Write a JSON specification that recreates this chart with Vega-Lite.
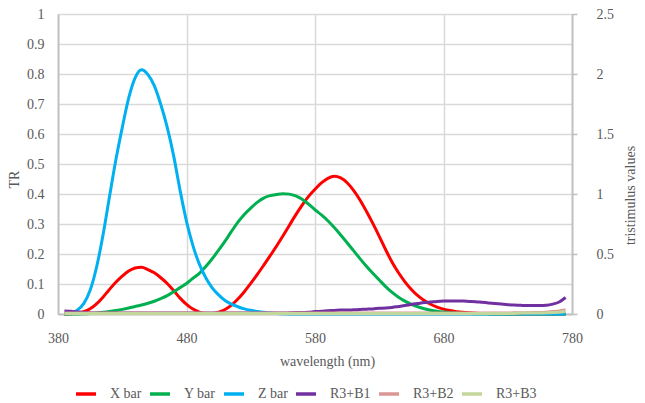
{
  "$schema": "https://vega.github.io/schema/vega-lite/v6.json",
  "autosize": {"type": "none"},
  "padding": {"left": 58, "top": 14, "right": 73, "bottom": 89},
  "width": 514,
  "height": 300,
  "background": "white",
  "config": {
    "view": {"stroke": null},
    "font": "Liberation Serif",
    "axis": {
      "labelFont": "Liberation Serif",
      "titleFont": "Liberation Serif",
      "labelFontSize": 14,
      "titleFontSize": 14,
      "labelColor": "#595959",
      "titleColor": "#595959",
      "titleFontWeight": "normal",
      "domainColor": "#BFBFBF",
      "domainWidth": 1.8,
      "gridColor": "#D9D9D9",
      "gridWidth": 1.5,
      "tickColor": "#BFBFBF",
      "tickWidth": 1.5
    },
    "legend": {
      "labelFont": "Liberation Serif"
    }
  },
  "data": {
    "values": [
      {"wl": 385, "X": 0.0007, "Y": 0.0001, "Z": 0.0029, "B1": 0.010, "B2": 0.003, "B3": 0.002},
      {"wl": 390, "X": 0.0024, "Y": 0.0003, "Z": 0.0105, "B1": 0.009, "B2": 0.003, "B3": 0.002},
      {"wl": 395, "X": 0.0072, "Y": 0.0008, "Z": 0.0323, "B1": 0.007, "B2": 0.003, "B3": 0.002},
      {"wl": 400, "X": 0.0191, "Y": 0.0020, "Z": 0.0860, "B1": 0.005, "B2": 0.003, "B3": 0.002},
      {"wl": 405, "X": 0.0434, "Y": 0.0045, "Z": 0.1971, "B1": 0.004, "B2": 0.003, "B3": 0.002},
      {"wl": 410, "X": 0.0847, "Y": 0.0088, "Z": 0.3894, "B1": 0.003, "B2": 0.003, "B3": 0.002},
      {"wl": 415, "X": 0.1406, "Y": 0.0145, "Z": 0.6568, "B1": 0.003, "B2": 0.003, "B3": 0.002},
      {"wl": 420, "X": 0.2045, "Y": 0.0214, "Z": 0.9725, "B1": 0.003, "B2": 0.003, "B3": 0.002},
      {"wl": 425, "X": 0.2647, "Y": 0.0295, "Z": 1.2825, "B1": 0.003, "B2": 0.003, "B3": 0.002},
      {"wl": 430, "X": 0.3147, "Y": 0.0387, "Z": 1.5535, "B1": 0.003, "B2": 0.003, "B3": 0.002},
      {"wl": 435, "X": 0.3577, "Y": 0.0496, "Z": 1.7985, "B1": 0.003, "B2": 0.003, "B3": 0.002},
      {"wl": 440, "X": 0.3837, "Y": 0.0621, "Z": 1.9673, "B1": 0.003, "B2": 0.003, "B3": 0.002},
      {"wl": 445, "X": 0.3900, "Y": 0.0747, "Z": 2.0350, "B1": 0.003, "B2": 0.003, "B3": 0.002},
      {"wl": 450, "X": 0.3707, "Y": 0.0895, "Z": 1.9948, "B1": 0.003, "B2": 0.003, "B3": 0.002},
      {"wl": 455, "X": 0.3430, "Y": 0.1063, "Z": 1.9007, "B1": 0.003, "B2": 0.003, "B3": 0.002},
      {"wl": 460, "X": 0.3023, "Y": 0.1282, "Z": 1.7454, "B1": 0.003, "B2": 0.003, "B3": 0.002},
      {"wl": 465, "X": 0.2541, "Y": 0.1528, "Z": 1.5549, "B1": 0.003, "B2": 0.003, "B3": 0.002},
      {"wl": 470, "X": 0.1956, "Y": 0.1852, "Z": 1.3176, "B1": 0.003, "B2": 0.003, "B3": 0.002},
      {"wl": 475, "X": 0.1323, "Y": 0.2199, "Z": 1.0302, "B1": 0.003, "B2": 0.003, "B3": 0.002},
      {"wl": 480, "X": 0.0805, "Y": 0.2536, "Z": 0.7721, "B1": 0.003, "B2": 0.003, "B3": 0.002},
      {"wl": 485, "X": 0.0411, "Y": 0.2977, "Z": 0.5701, "B1": 0.003, "B2": 0.003, "B3": 0.002},
      {"wl": 490, "X": 0.0162, "Y": 0.3391, "Z": 0.4153, "B1": 0.003, "B2": 0.003, "B3": 0.002},
      {"wl": 495, "X": 0.0051, "Y": 0.3954, "Z": 0.3024, "B1": 0.003, "B2": 0.003, "B3": 0.002},
      {"wl": 500, "X": 0.0038, "Y": 0.4608, "Z": 0.2185, "B1": 0.003, "B2": 0.003, "B3": 0.002},
      {"wl": 505, "X": 0.0154, "Y": 0.5314, "Z": 0.1592, "B1": 0.003, "B2": 0.003, "B3": 0.002},
      {"wl": 510, "X": 0.0375, "Y": 0.6067, "Z": 0.1120, "B1": 0.003, "B2": 0.003, "B3": 0.002},
      {"wl": 515, "X": 0.0740, "Y": 0.6880, "Z": 0.0822, "B1": 0.003, "B2": 0.003, "B3": 0.002},
      {"wl": 520, "X": 0.1250, "Y": 0.7660, "Z": 0.0607, "B1": 0.003, "B2": 0.003, "B3": 0.002},
      {"wl": 525, "X": 0.1860, "Y": 0.8300, "Z": 0.0431, "B1": 0.003, "B2": 0.003, "B3": 0.002},
      {"wl": 530, "X": 0.2550, "Y": 0.8830, "Z": 0.0305, "B1": 0.003, "B2": 0.003, "B3": 0.002},
      {"wl": 535, "X": 0.3280, "Y": 0.9300, "Z": 0.0206, "B1": 0.003, "B2": 0.003, "B3": 0.002},
      {"wl": 540, "X": 0.4050, "Y": 0.9660, "Z": 0.0137, "B1": 0.003, "B2": 0.003, "B3": 0.002},
      {"wl": 545, "X": 0.4840, "Y": 0.9860, "Z": 0.0079, "B1": 0.003, "B2": 0.003, "B3": 0.002},
      {"wl": 550, "X": 0.5650, "Y": 0.9960, "Z": 0.0040, "B1": 0.003, "B2": 0.003, "B3": 0.002},
      {"wl": 555, "X": 0.6500, "Y": 1.0030, "Z": 0.0011, "B1": 0.003, "B2": 0.003, "B3": 0.002},
      {"wl": 560, "X": 0.7380, "Y": 0.9990, "Z": 0, "B1": 0.004, "B2": 0.003, "B3": 0.002},
      {"wl": 565, "X": 0.8260, "Y": 0.9840, "Z": 0, "B1": 0.005, "B2": 0.003, "B3": 0.002},
      {"wl": 570, "X": 0.9080, "Y": 0.9560, "Z": 0, "B1": 0.005, "B2": 0.003, "B3": 0.002},
      {"wl": 575, "X": 0.9800, "Y": 0.9152, "Z": 0, "B1": 0.006, "B2": 0.003, "B3": 0.002},
      {"wl": 580, "X": 1.0400, "Y": 0.8689, "Z": 0, "B1": 0.008, "B2": 0.003, "B3": 0.002},
      {"wl": 585, "X": 1.0920, "Y": 0.8256, "Z": 0, "B1": 0.009, "B2": 0.003, "B3": 0.002},
      {"wl": 590, "X": 1.1300, "Y": 0.7774, "Z": 0, "B1": 0.011, "B2": 0.003, "B3": 0.002},
      {"wl": 595, "X": 1.1470, "Y": 0.7204, "Z": 0, "B1": 0.012, "B2": 0.003, "B3": 0.002},
      {"wl": 600, "X": 1.1340, "Y": 0.6583, "Z": 0, "B1": 0.013, "B2": 0.003, "B3": 0.002},
      {"wl": 605, "X": 1.0940, "Y": 0.5939, "Z": 0, "B1": 0.013, "B2": 0.003, "B3": 0.002},
      {"wl": 610, "X": 1.0305, "Y": 0.5280, "Z": 0, "B1": 0.014, "B2": 0.003, "B3": 0.002},
      {"wl": 615, "X": 0.9507, "Y": 0.4618, "Z": 0, "B1": 0.015, "B2": 0.003, "B3": 0.002},
      {"wl": 620, "X": 0.8563, "Y": 0.3981, "Z": 0, "B1": 0.016, "B2": 0.003, "B3": 0.002},
      {"wl": 625, "X": 0.7549, "Y": 0.3396, "Z": 0, "B1": 0.017, "B2": 0.003, "B3": 0.002},
      {"wl": 630, "X": 0.6475, "Y": 0.2835, "Z": 0, "B1": 0.019, "B2": 0.003, "B3": 0.002},
      {"wl": 635, "X": 0.5351, "Y": 0.2283, "Z": 0, "B1": 0.020, "B2": 0.003, "B3": 0.002},
      {"wl": 640, "X": 0.4316, "Y": 0.1798, "Z": 0, "B1": 0.022, "B2": 0.003, "B3": 0.002},
      {"wl": 645, "X": 0.3437, "Y": 0.1402, "Z": 0, "B1": 0.025, "B2": 0.003, "B3": 0.002},
      {"wl": 650, "X": 0.2683, "Y": 0.1076, "Z": 0, "B1": 0.028, "B2": 0.003, "B3": 0.002},
      {"wl": 655, "X": 0.2043, "Y": 0.0812, "Z": 0, "B1": 0.032, "B2": 0.003, "B3": 0.002},
      {"wl": 660, "X": 0.1526, "Y": 0.0603, "Z": 0, "B1": 0.035, "B2": 0.003, "B3": 0.002},
      {"wl": 665, "X": 0.1122, "Y": 0.0441, "Z": 0, "B1": 0.038, "B2": 0.003, "B3": 0.002},
      {"wl": 670, "X": 0.0813, "Y": 0.0318, "Z": 0, "B1": 0.040, "B2": 0.003, "B3": 0.002},
      {"wl": 675, "X": 0.0579, "Y": 0.0226, "Z": 0, "B1": 0.042, "B2": 0.003, "B3": 0.002},
      {"wl": 680, "X": 0.0409, "Y": 0.0159, "Z": 0, "B1": 0.043, "B2": 0.003, "B3": 0.002},
      {"wl": 685, "X": 0.0286, "Y": 0.0111, "Z": 0, "B1": 0.043, "B2": 0.003, "B3": 0.002},
      {"wl": 690, "X": 0.0199, "Y": 0.0077, "Z": 0, "B1": 0.043, "B2": 0.003, "B3": 0.002},
      {"wl": 695, "X": 0.0138, "Y": 0.0054, "Z": 0, "B1": 0.043, "B2": 0.003, "B3": 0.002},
      {"wl": 700, "X": 0.0096, "Y": 0.0037, "Z": 0, "B1": 0.042, "B2": 0.003, "B3": 0.002},
      {"wl": 705, "X": 0.0066, "Y": 0.0026, "Z": 0, "B1": 0.041, "B2": 0.003, "B3": 0.002},
      {"wl": 710, "X": 0.0046, "Y": 0.0018, "Z": 0, "B1": 0.039, "B2": 0.003, "B3": 0.002},
      {"wl": 715, "X": 0.0031, "Y": 0.0012, "Z": 0, "B1": 0.037, "B2": 0.003, "B3": 0.002},
      {"wl": 720, "X": 0.0022, "Y": 0.0008, "Z": 0, "B1": 0.035, "B2": 0.003, "B3": 0.002},
      {"wl": 725, "X": 0.0015, "Y": 0.0006, "Z": 0, "B1": 0.033, "B2": 0.003, "B3": 0.002},
      {"wl": 730, "X": 0.0010, "Y": 0.0004, "Z": 0, "B1": 0.031, "B2": 0.003, "B3": 0.002},
      {"wl": 735, "X": 0.0007, "Y": 0.0003, "Z": 0, "B1": 0.030, "B2": 0.004, "B3": 0.002},
      {"wl": 740, "X": 0.0005, "Y": 0.0002, "Z": 0, "B1": 0.029, "B2": 0.004, "B3": 0.003},
      {"wl": 745, "X": 0.0004, "Y": 0.0001, "Z": 0, "B1": 0.028, "B2": 0.004, "B3": 0.003},
      {"wl": 750, "X": 0.0003, "Y": 0.0001, "Z": 0, "B1": 0.028, "B2": 0.005, "B3": 0.003},
      {"wl": 755, "X": 0.0002, "Y": 0.0001, "Z": 0, "B1": 0.028, "B2": 0.005, "B3": 0.003},
      {"wl": 760, "X": 0.0001, "Y": 0.0001, "Z": 0, "B1": 0.029, "B2": 0.006, "B3": 0.004},
      {"wl": 765, "X": 0.0001, "Y": 0, "Z": 0, "B1": 0.033, "B2": 0.008, "B3": 0.005},
      {"wl": 770, "X": 0.0001, "Y": 0, "Z": 0, "B1": 0.040, "B2": 0.010, "B3": 0.006},
      {"wl": 775, "X": 0, "Y": 0, "Z": 0, "B1": 0.055, "B2": 0.013, "B3": 0.008}
    ]
  },
  "encoding": {
    "x": {
      "field": "wl",
      "type": "quantitative",
      "scale": {"domain": [380, 780], "nice": false, "zero": false},
      "axis": {
        "values": [380, 480, 580, 680, 780],
        "title": "wavelength (nm)",
        "grid": true,
        "ticks": false,
        "tickSize": 0,
        "labelFlush": false,
        "labelPadding": 17,
        "labelDx": 3,
        "titleX": 269,
        "titleY": 47,
        "titleBaseline": "middle",
        "titleAnchor": null
      }
    },
    "color": {
      "field": "series",
      "type": "nominal",
      "scale": {
        "domain": ["X", "Y", "Z", "B1", "B2", "B3"],
        "range": ["#FF0000", "#00B050", "#00B0F0", "#7030A0", "#D99694", "#C3D69B"]
      },
      "legend": {
        "orient": "none",
        "legendX": 16,
        "legendY": 368,
        "direction": "horizontal",
        "columns": 6,
        "title": null,
        "symbolType": "stroke",
        "symbolSize": 400,
        "symbolStrokeWidth": 3.5,
        "labelFontSize": 14,
        "labelColor": "#595959",
        "labelOffset": 12,
        "columnPadding": 1,
        "labelExpr": "datum.label == 'X' ? 'X bar' : datum.label == 'Y' ? 'Y bar' : datum.label == 'Z' ? 'Z bar' : datum.label == 'B1' ? 'R3+B1' : datum.label == 'B2' ? 'R3+B2' : 'R3+B3'"
      }
    }
  },
  "layer": [
    {
      "transform": [{"fold": ["X", "Y", "Z"], "as": ["series", "value"]}],
      "mark": {"type": "line", "strokeWidth": 3, "interpolate": "monotone"},
      "encoding": {
        "y": {
          "field": "value",
          "type": "quantitative",
          "scale": {"domain": [0, 2.5], "nice": false},
          "axis": {
            "orient": "right",
            "values": [0, 0.5, 1, 1.5, 2, 2.5],
            "format": "~g",
            "grid": false,
            "tickSize": 5,
            "labelPadding": 19,
            "labelAlign": "left",
            "title": "tristimulus values",
            "titleAngle": 270,
            "titleX": 58,
            "titleY": 181,
            "titleBaseline": "middle",
            "titleAlign": "center"
          }
        }
      }
    },
    {
      "transform": [{"fold": ["B1", "B2", "B3"], "as": ["series", "value"]}],
      "mark": {"type": "line", "strokeWidth": 3, "interpolate": "monotone"},
      "encoding": {
        "y": {
          "field": "value",
          "type": "quantitative",
          "scale": {"domain": [0, 1], "nice": false},
          "axis": {
            "orient": "left",
            "values": [0, 0.1, 0.2, 0.3, 0.4, 0.5, 0.6, 0.7, 0.8, 0.9, 1],
            "format": "~g",
            "grid": true,
            "ticks": false,
            "tickSize": 0,
            "labelPadding": 14,
            "title": "TR",
            "titleAngle": 270,
            "titleX": -44,
            "titleY": 165,
            "titleBaseline": "middle",
            "titleAlign": "center"
          }
        }
      }
    }
  ],
  "resolve": {"scale": {"y": "independent"}}
}
